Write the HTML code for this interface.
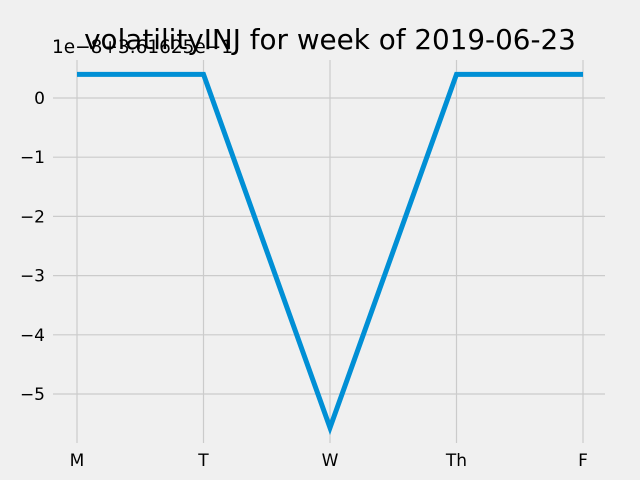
<!DOCTYPE html>
<html><head><meta charset="utf-8"><style>
body{margin:0;background:#f0f0f0;}
svg{display:block;font-family:"DejaVu Sans","Liberation Sans",sans-serif;}
</style></head><body>
<svg id="chart" width="640" height="480" viewBox="0 0 640 480">
<rect width="640" height="480" fill="#f0f0f0"/>
<g id="grid"></g>
<g id="ticks"></g>
<path id="line" fill="none" stroke="#008fd5" stroke-width="5" stroke-linejoin="miter"/>
<text x="330" y="49" font-size="27.8" text-anchor="middle" fill="#000">volatilityINJ for week of 2019-06-23</text>
<text x="52" y="53" font-size="18.5" fill="#000">1e−8+3.61625e−1</text>
</svg>
<script>
const categories = ["M","T","W","Th","F"];
const values = [0.4, 0.4, -5.57, 0.4, 0.4];
const yTicks = [0,-1,-2,-3,-4,-5];
const yTickLabels = ["0","−1","−2","−3","−4","−5"];
const NS="http://www.w3.org/2000/svg";
function xs(i){return 77 + i*126.5;}
function ys(v){return 98 - v*59.2;}
const grid=document.getElementById('grid'), ticks=document.getElementById('ticks');
function mk(tag,attrs,parent){const e=document.createElementNS(NS,tag);for(const k in attrs)e.setAttribute(k,attrs[k]);parent.appendChild(e);return e;}
yTicks.forEach((t,i)=>{
  const l=mk('line',{x1:53,x2:605,y1:ys(t),y2:ys(t),stroke:'#cbcbcb','stroke-width':1.2},grid);
  
  
  const tx=mk('text',{x:45,y:ys(t)+6,'font-size':17,'text-anchor':'end',fill:'#000'},ticks);
  tx.textContent=yTickLabels[i];
  
  
});
categories.forEach((c,i)=>{
  const l=mk('line',{x1:xs(i),x2:xs(i),y1:60,y2:443,stroke:'#cbcbcb','stroke-width':1.2},grid);
  
  
  const tx=mk('text',{x:xs(i),y:466,'font-size':17,'text-anchor':'middle',fill:'#000'},ticks);
  tx.textContent=c;
  
  
});
document.getElementById('line').setAttribute('d',values.map((v,i)=>(i?'L':'M')+xs(i)+','+ys(v)).join(' '));
</script>
</body></html>
